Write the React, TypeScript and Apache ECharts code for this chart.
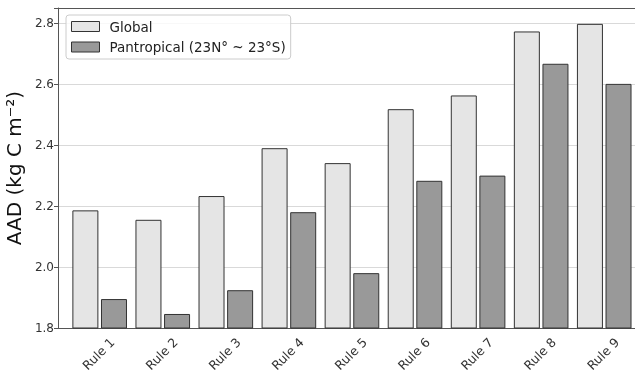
import React, { useEffect, useRef } from "react";
import * as echarts from "echarts";

const categories = ["Rule 1", "Rule 2", "Rule 3", "Rule 4", "Rule 5", "Rule 6", "Rule 7", "Rule 8", "Rule 9"];
const globalValues = [2.186, 2.155, 2.233, 2.39, 2.341, 2.518, 2.563, 2.773, 2.798];
const pantropicalValues = [1.895, 1.846, 1.924, 2.18, 1.98, 2.283, 2.3, 2.667, 2.601];
const seriesNames = ["Global", "Pantropical (23N° ~ 23°S)"];
const yTicks = [1.8, 2.0, 2.2, 2.4, 2.6, 2.8];

const FONT = "DejaVu Sans";
const LABEL_SHIFT = 0.2;
const X_MIN = -0.661;
const X_MAX = 8.488;

export default function App() {
  const ref = useRef<HTMLDivElement>(null);
  useEffect(() => {
    if (!ref.current) return;
    const chart = echarts.init(ref.current, undefined, { renderer: "svg" });
    const idx = categories.map((_, i) => i);
    chart.setOption({
      animation: false,
      textStyle: { fontFamily: FONT },
      grid: {
        left: 58,
        top: 8,
        right: 0,
        bottom: 50,
        show: false,
        containLabel: false,
        outerBoundsMode: "none",
      },
      legend: {
        orient: "vertical",
        left: 66,
        top: 15,
        padding: [3.5, 5, 4, 5],
        itemGap: 4.5,
        itemWidth: 28,
        itemHeight: 10,
        icon: "rect",
        borderColor: "#ccc",
        borderWidth: 1,
        borderRadius: 3,
        backgroundColor: "rgba(255,255,255,0.8)",
        itemStyle: { borderWidth: 1, borderColor: "#333" },
        data: seriesNames,
        textStyle: {
          fontFamily: FONT,
          fontSize: 13.5,
          lineHeight: 16,
          color: "#222",
          padding: [0, 0, 0, 5],
        },
      },
      xAxis: [
        {
          type: "value",
          min: X_MIN,
          max: X_MAX,
          position: "bottom",
          axisLine: { show: true, onZero: false, lineStyle: { color: "#555", width: 1 } },
          axisTick: { show: false },
          splitLine: { show: false },
          axisLabel: {
            customValues: idx.map((i) => i + LABEL_SHIFT),
            formatter: (v: number) => categories[Math.round(v - LABEL_SHIFT)] ?? "",
            rotate: 45,
            margin: 12,
            fontFamily: FONT,
            fontSize: 12.5,
            color: "#333",
          },
        },
        {
          type: "value",
          min: X_MIN,
          max: X_MAX,
          position: "top",
          axisLine: { show: true, onZero: false, lineStyle: { color: "#555", width: 1 } },
          axisTick: { show: false },
          splitLine: { show: false },
          axisLabel: { show: false },
        },
      ],
      yAxis: {
        type: "value",
        min: 1.8,
        max: 2.85,
        interval: 0.2,
        name: "AAD (kg C m⁻²)",
        nameLocation: "middle",
        nameGap: 30,
        nameTextStyle: { fontFamily: FONT, fontSize: 20, color: "#111" },
        axisLine: { show: true, onZero: false, lineStyle: { color: "#555", width: 1 } },
        axisTick: { show: true, length: 4, lineStyle: { color: "#555" } },
        splitLine: { show: true, lineStyle: { color: "#d9d9d9", width: 1 } },
        axisLabel: {
          customValues: yTicks,
          formatter: (v: number) => v.toFixed(1),
          margin: 4,
          fontFamily: FONT,
          fontSize: 12,
          color: "#333",
        },
      },
      series: [
        {
          name: seriesNames[0],
          type: "bar",
          barWidth: 26,
          barGap: "10%",
          data: globalValues.map((v, i) => [i, v]),
          itemStyle: { color: "#e5e5e5", borderColor: "#333", borderWidth: 1 },
        },
        {
          name: seriesNames[1],
          type: "bar",
          barWidth: 26,
          barGap: "10%",
          data: pantropicalValues.map((v, i) => [i, v]),
          itemStyle: { color: "#999999", borderColor: "#333", borderWidth: 1 },
        },
      ],
    });
    return () => chart.dispose();
  }, []);
  return <div ref={ref} style={{ position: "fixed", left: 0, top: 0, width: 635, height: 378 }} />;
}
